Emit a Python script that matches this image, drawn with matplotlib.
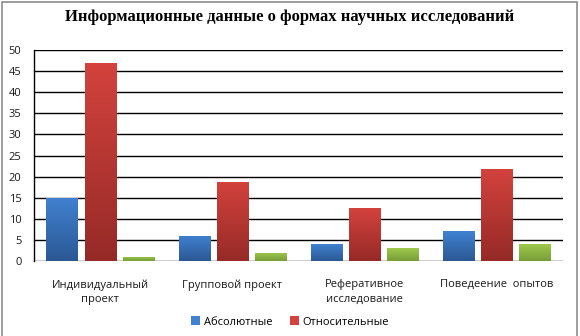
import matplotlib
matplotlib.use("Agg")
import matplotlib.pyplot as plt
import numpy as np
from matplotlib.colors import LinearSegmentedColormap
from matplotlib.patches import Rectangle, Patch

categories = ["Индивидуальный\nпроект", "Групповой проект", "Реферативное\nисследование", "Поведеение  опытов"]
absolute = [15, 6, 4, 7]
relative = [46.9, 18.75, 12.5, 21.9]
third = [1, 2, 3, 4]
series_names = ["Абсолютные", "Относительные", ""]
title = "Информационные данные о формах научных исследований"
yticks = [0, 5, 10, 15, 20, 25, 30, 35, 40, 45, 50]

colors_top = ["#4081D0", "#D3423D", "#9FC84D"]
colors_bot = ["#2B5894", "#962A27", "#769E38"]

plt.rcParams['font.family'] = ['Open Sans', 'DejaVu Sans']

fig = plt.figure(figsize=(5.8, 3.36), dpi=100)
ax = fig.add_axes([34/580, 1-261/336, (563-34)/580, (261-50)/336])

x = np.arange(len(categories))
w = 0.235
step = 0.288
data = [absolute, relative, third]
for i, vals in enumerate(data):
    bars = ax.bar(x + (i-1)*step, vals, width=w, color=colors_top[i], zorder=3)
    cmap = LinearSegmentedColormap.from_list("g%d" % i, [colors_bot[i], colors_top[i]])
    grad = np.linspace(0, 1, 100).reshape(-1, 1)
    for b in bars:
        bx, by = b.get_x(), b.get_y()
        bw, bh = b.get_width(), b.get_height()
        im = ax.imshow(grad, extent=[bx, bx+bw, by, by+bh], origin='lower',
                       cmap=cmap, aspect='auto', zorder=4)
        im.set_clip_path(b)

ax.set_xlim(-0.5, 3.5)
ax.set_ylim(0, 50)
ax.set_yticks(yticks)
ax.set_xticks(x)
ax.set_xticklabels(categories, fontsize=8, color="#1a1a1a", linespacing=1.45)
ax.tick_params(axis='both', length=0, labelsize=8)
ax.tick_params(axis='y', pad=9)
ax.tick_params(axis='x', pad=13)
for lbl in ax.get_yticklabels():
    lbl.set_color("#1a1a1a")
ax.yaxis.grid(True, color="black", linewidth=1.0, zorder=0)
ax.set_axisbelow(True)
for s in ["top", "right", "bottom"]:
    ax.spines[s].set_visible(False)
ax.spines["left"].set_color("black")
ax.spines["left"].set_linewidth(1.0)

fig.text(0.5, 1-17/336, title, ha='center', va='center', fontsize=12,
         fontweight='bold', family=['Liberation Serif', 'DejaVu Serif'])

handles = [Patch(facecolor=colors_top[0], edgecolor='none'),
           Patch(facecolor=colors_top[1], edgecolor='none')]
fig.legend(handles, series_names[:2], loc='center', bbox_to_anchor=(0.5, 1-322/336),
           ncol=2, frameon=False, fontsize=8, handlelength=0.8, handleheight=0.8,
           handletextpad=0.3, columnspacing=1.6)

fig.add_artist(Rectangle((2/580, -0.05), 575/580, 1.05-1.5/336, transform=fig.transFigure,
                         fill=False, edgecolor="#8C8C8C", linewidth=1.2, clip_on=False))

fig.savefig("out.png", dpi=100)
